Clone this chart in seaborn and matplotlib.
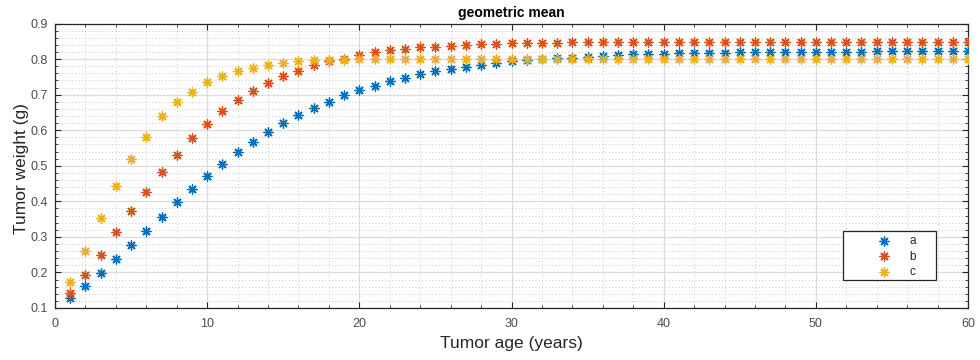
import numpy as np
import pandas as pd
import matplotlib
matplotlib.use("Agg")
import matplotlib.pyplot as plt
from matplotlib.ticker import MultipleLocator
from matplotlib.patches import Rectangle
import seaborn as sns

# ---- data ----
age = list(range(1, 61))
series_names = ["a", "b", "c"]
a_vals = [0.129, 0.161, 0.199, 0.239, 0.276, 0.317, 0.357, 0.398, 0.436, 0.472,
          0.506, 0.539, 0.568, 0.595, 0.620, 0.643, 0.661, 0.680, 0.698, 0.713,
          0.724, 0.739, 0.746, 0.758, 0.766, 0.772, 0.779, 0.782, 0.788, 0.794,
          0.798, 0.801, 0.802, 0.803, 0.806, 0.808, 0.811, 0.813, 0.813, 0.815,
          0.816, 0.816, 0.817, 0.818, 0.819, 0.819, 0.819, 0.820, 0.820, 0.820,
          0.820, 0.821, 0.821, 0.822, 0.822, 0.822, 0.823, 0.823, 0.823, 0.824]
b_vals = [0.142, 0.194, 0.250, 0.314, 0.373, 0.427, 0.483, 0.531, 0.579, 0.616,
          0.653, 0.684, 0.709, 0.732, 0.752, 0.767, 0.782, 0.795, 0.800, 0.811,
          0.819, 0.825, 0.829, 0.833, 0.835, 0.838, 0.840, 0.842, 0.843, 0.844,
          0.845, 0.846, 0.846, 0.847, 0.847, 0.847, 0.848, 0.848, 0.848, 0.848,
          0.849, 0.849, 0.849, 0.849, 0.849, 0.849, 0.849, 0.849, 0.849, 0.849,
          0.849, 0.849, 0.849, 0.849, 0.849, 0.849, 0.849, 0.849, 0.849, 0.849]
c_vals = [0.173, 0.261, 0.354, 0.443, 0.519, 0.582, 0.640, 0.679, 0.708, 0.736,
          0.753, 0.766, 0.775, 0.783, 0.790, 0.794, 0.796, 0.797, 0.798, 0.799,
          0.800, 0.800, 0.801, 0.801, 0.801, 0.801, 0.801, 0.801, 0.801, 0.801,
          0.801, 0.801, 0.801, 0.801, 0.801, 0.801, 0.801, 0.801, 0.801, 0.801,
          0.801, 0.801, 0.801, 0.801, 0.801, 0.801, 0.801, 0.801, 0.801, 0.801,
          0.801, 0.801, 0.801, 0.801, 0.801, 0.801, 0.801, 0.801, 0.801, 0.801]
colors = ["#0072BD", "#D95319", "#EDB120"]

title = "geometric mean"
xlabel = "Tumor age (years)"
ylabel = "Tumor weight (g)"
xticks = [0, 10, 20, 30, 40, 50, 60]
yticks = [0.1, 0.2, 0.3, 0.4, 0.5, 0.6, 0.7, 0.8, 0.9]

# ---- style ----
sns.set_theme(style="white")
plt.rcParams["font.family"] = ["Liberation Sans", "DejaVu Sans"]

fig = plt.figure(figsize=(9.8, 3.6), dpi=100)
ax = fig.add_axes([55 / 980, 52 / 360, 913 / 980, 284.5 / 360])

df = pd.DataFrame({"age": age * 3,
                   "weight": a_vals + b_vals + c_vals,
                   "series": ["a"] * 60 + ["b"] * 60 + ["c"] * 60})

for name, col in zip(series_names, colors):
    sub = df[df["series"] == name]
    sns.scatterplot(data=sub, x="age", y="weight", color=col,
                    marker=(8, 2, 0), s=42, linewidth=1.0,
                    label=name, legend=False, ax=ax, zorder=3)

ax.set_xlim(0, 60)
ax.set_ylim(0.1, 0.9)
ax.set_xticks(xticks)
ax.set_yticks(yticks)
ax.set_xticklabels([str(t) for t in xticks])
ax.set_yticklabels([f"{t:.1f}" for t in yticks])
ax.xaxis.set_minor_locator(MultipleLocator(2))
ax.yaxis.set_minor_locator(MultipleLocator(0.02))

ax.grid(True, which="major", color="#dcdcdc", linewidth=0.9, linestyle="-", zorder=0)
ax.grid(True, which="minor", color="#b8b8b8", linewidth=0.6, linestyle=(0, (1, 3)), zorder=0)
ax.set_axisbelow(True)

for sp in ax.spines.values():
    sp.set_visible(True)
    sp.set_color("#262626")
    sp.set_linewidth(0.9)

ax.tick_params(which="major", direction="in", length=4.5, width=0.8, color="#262626",
               top=True, right=True, bottom=True, left=True,
               labelsize=9, labelcolor="#4d4d4d")
ax.tick_params(axis="x", which="major", pad=7)
ax.tick_params(axis="y", which="major", pad=5)
ax.tick_params(which="minor", direction="in", length=2, width=0.6, color="#262626",
               top=True, right=True, bottom=True, left=True)

ax.set_xlabel(xlabel, fontsize=12.5, color="#262626")
ax.set_ylabel(ylabel, fontsize=12.5, color="#262626")
ax.xaxis.set_label_coords(0.5, -0.1)
ax.yaxis.set_label_coords(-0.029, 0.49)
ax.set_title(title, fontsize=10, fontweight="bold", color="#000000", pad=5)

# legend frame (MATLAB-style box)
fx0 = (843 - 55) / 913
fy0 = (308 - 280) / 284.5
ax.add_patch(Rectangle((fx0, fy0), 93 / 913, 49 / 284.5, transform=ax.transAxes,
                       facecolor="white", edgecolor="#262626", linewidth=0.9, zorder=6))
leg = ax.legend(loc="upper left", bbox_to_anchor=((872 - 55) / 913, (308 - 235) / 284.5),
                frameon=False, fontsize=8.5, handlelength=2, handletextpad=1.15,
                labelspacing=0.3, borderpad=0, borderaxespad=0, scatterpoints=1)
leg.set_zorder(7)
for t in leg.get_texts():
    t.set_color("#262626")

fig.savefig("out.png", dpi=100)
